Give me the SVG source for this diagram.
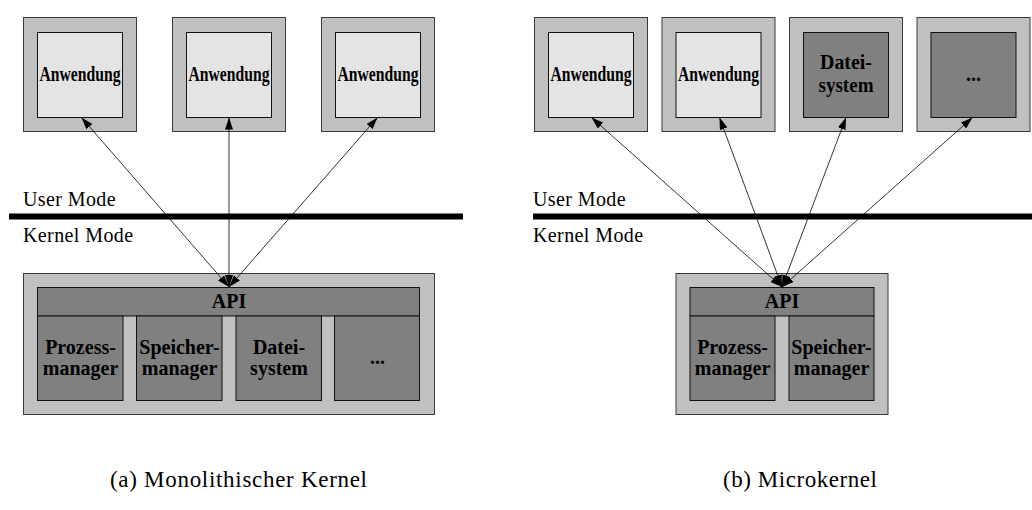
<svg xmlns="http://www.w3.org/2000/svg" width="1032" height="510" viewBox="0 0 1032 510">
  <style>
    .outer { fill: #c0c0c0; stroke: #3a3a3a; stroke-width: 1; }
    .light { fill: #e4e4e4; stroke: #111; stroke-width: 1; }
    .dark { fill: #808080; stroke: #111; stroke-width: 1; }
    .lbl { font-family: "Liberation Serif", "Times New Roman", serif; font-weight: bold; font-size: 20px; fill: #000; text-anchor: middle; }
    .app { font-size: 21px; }
    .mode { font-family: "Liberation Serif", "Times New Roman", serif; font-size: 20px; fill: #000; letter-spacing: 0.4px; }
    .cap { font-family: "Liberation Serif", "Times New Roman", serif; font-size: 23px; fill: #000; text-anchor: middle; }
    .conn { stroke: #000; stroke-width: 0.8; fill: none; marker-start: url(#arr); marker-end: url(#arr); }
    .sep { stroke: #000; stroke-width: 6; }
  </style>
  <defs>
    <marker id="arr" viewBox="0 0 12 8" refX="12" refY="4" markerWidth="12" markerHeight="8" markerUnits="userSpaceOnUse" orient="auto-start-reverse">
      <path d="M0,0 L12,4 L0,8 Z" fill="#000"/>
    </marker>
  </defs>

  <!-- (a) monolithic kernel -->
  <g id="mono-app1">
    <rect class="outer" x="23.5" y="17.5" width="113" height="114"/>
    <rect class="light" x="37.5" y="32.5" width="85" height="85"/>
    <text class="lbl app" x="80" y="81" textLength="81" lengthAdjust="spacingAndGlyphs">Anwendung</text>
  </g>
  <g id="mono-app2">
    <rect class="outer" x="172.5" y="17.5" width="113" height="114"/>
    <rect class="light" x="186.5" y="32.5" width="85" height="85"/>
    <text class="lbl app" x="229" y="81" textLength="81" lengthAdjust="spacingAndGlyphs">Anwendung</text>
  </g>
  <g id="mono-app3">
    <rect class="outer" x="321.5" y="17.5" width="113" height="114"/>
    <rect class="light" x="335.5" y="32.5" width="85" height="85"/>
    <text class="lbl app" x="378" y="81" textLength="81" lengthAdjust="spacingAndGlyphs">Anwendung</text>
  </g>

  <g id="mono-modes">
    <text class="mode" x="23" y="206">User Mode</text>
    <line class="sep" x1="9" y1="216.5" x2="463" y2="216.5"/>
    <text class="mode" x="23" y="242">Kernel Mode</text>
  </g>

  <g id="mono-kernel">
    <rect class="outer" x="23.5" y="273.5" width="411" height="141"/>
    <rect class="dark" x="37.5" y="287.5" width="382" height="28.5"/>
    <text class="lbl" x="229" y="308">API</text>
    <rect class="dark" x="37.5" y="316" width="85.5" height="84.5"/>
    <text class="lbl" x="80.5" y="354">Prozess-</text>
    <text class="lbl" x="80.5" y="375">manager</text>
    <rect class="dark" x="136.5" y="316" width="85.5" height="84.5"/>
    <text class="lbl" x="179.5" y="354">Speicher-</text>
    <text class="lbl" x="179.5" y="375">manager</text>
    <rect class="dark" x="236" y="316" width="85.5" height="84.5"/>
    <text class="lbl" x="279" y="354">Datei-</text>
    <text class="lbl" x="279" y="375">system</text>
    <rect class="dark" x="334.5" y="316" width="85" height="84.5"/>
    <text class="lbl" x="377.5" y="364">...</text>
  </g>

  <!-- (b) microkernel -->
  <g id="micro-app1">
    <rect class="outer" x="534.5" y="17.5" width="113" height="114"/>
    <rect class="light" x="548.5" y="32.5" width="85" height="85"/>
    <text class="lbl app" x="591" y="81" textLength="81" lengthAdjust="spacingAndGlyphs">Anwendung</text>
  </g>
  <g id="micro-app2">
    <rect class="outer" x="662" y="17.5" width="113" height="114"/>
    <rect class="light" x="676" y="32.5" width="85" height="85"/>
    <text class="lbl app" x="718.5" y="81" textLength="81" lengthAdjust="spacingAndGlyphs">Anwendung</text>
  </g>
  <g id="micro-fs">
    <rect class="outer" x="789.5" y="17.5" width="113" height="114"/>
    <rect class="dark" x="803.5" y="32.5" width="85" height="85"/>
    <text class="lbl" x="846" y="69" style="font-size:21px" textLength="52" lengthAdjust="spacingAndGlyphs">Datei-</text>
    <text class="lbl" x="846" y="91.5" style="font-size:21px" textLength="55" lengthAdjust="spacingAndGlyphs">system</text>
  </g>
  <g id="micro-more">
    <rect class="outer" x="917" y="17.5" width="113" height="114"/>
    <rect class="dark" x="931" y="32.5" width="85" height="85"/>
    <text class="lbl" x="973.5" y="81">...</text>
  </g>

  <g id="micro-modes">
    <text class="mode" x="533" y="206">User Mode</text>
    <line class="sep" x1="533" y1="216.5" x2="1032" y2="216.5"/>
    <text class="mode" x="533" y="242">Kernel Mode</text>
  </g>

  <g id="micro-kernel">
    <rect class="outer" x="676" y="273.5" width="212" height="141"/>
    <rect class="dark" x="690" y="287.5" width="184" height="28.5"/>
    <text class="lbl" x="782" y="308">API</text>
    <rect class="dark" x="690" y="316" width="85" height="84.5"/>
    <text class="lbl" x="732.5" y="354">Prozess-</text>
    <text class="lbl" x="732.5" y="375">manager</text>
    <rect class="dark" x="789" y="316" width="85" height="84.5"/>
    <text class="lbl" x="831.5" y="354">Speicher-</text>
    <text class="lbl" x="831.5" y="375">manager</text>
  </g>

  <!-- system-call paths between applications and the kernel API -->
  <g id="connectors">
    <line class="conn" x1="229" y1="287" x2="81.5" y2="117.5"/>
    <line class="conn" x1="229" y1="287" x2="229" y2="117.5"/>
    <line class="conn" x1="229" y1="287" x2="377.5" y2="117.5"/>
    <line class="conn" x1="782" y1="287" x2="591.5" y2="117.5"/>
    <line class="conn" x1="782" y1="287" x2="719.5" y2="117.5"/>
    <line class="conn" x1="782" y1="287" x2="846" y2="117.5"/>
    <line class="conn" x1="782" y1="287" x2="972.5" y2="117.5"/>
  </g>

  <g id="captions">
    <text class="cap" x="238.5" y="487" textLength="257" lengthAdjust="spacing">(a) Monolithischer Kernel</text>
    <text class="cap" x="800" y="487" textLength="154" lengthAdjust="spacing">(b) Microkernel</text>
  </g>
</svg>
